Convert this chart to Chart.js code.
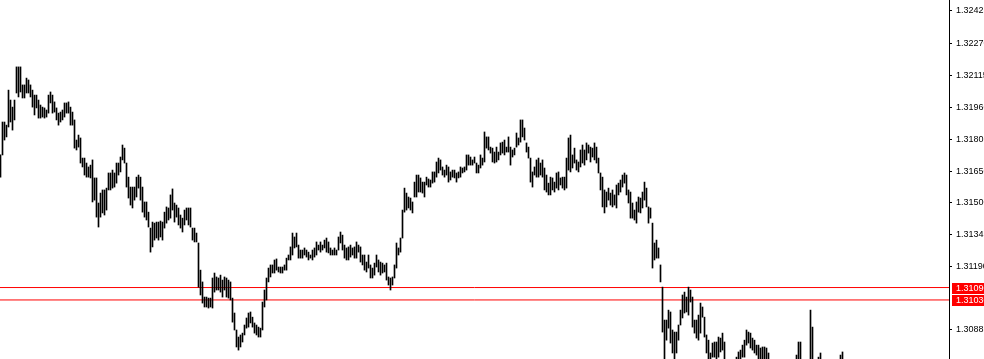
<!DOCTYPE html>
<html>
<head>
<meta charset="utf-8">
<script src="https://cdn.jsdelivr.net/npm/chart.js@4.4.1/dist/chart.umd.min.js"></script>
<style>
    html, body { margin: 0; padding: 0; background: #ffffff; }
    canvas { display: block; }
</style>
</head>
<body>
<canvas id="chart" width="984" height="359"></canvas>
<script>

// bar highs / lows, one entry per bar

const highs = [
    1.31730, 1.31889, 1.31889, 1.31874, 1.32043, 1.31995, 1.31961, 1.31995, 1.32155, 1.32155,
    1.32155, 1.32068, 1.32068, 1.32101, 1.32092, 1.32068, 1.32043, 1.32019, 1.32019, 1.31995,
    1.31971, 1.31961, 1.31957, 1.31947, 1.32019, 1.32034, 1.32019, 1.31986, 1.31957, 1.31932,
    1.31937, 1.31947, 1.31981, 1.31981, 1.31986, 1.31961, 1.31937, 1.31899, 1.31802, 1.31826,
    1.31812, 1.31715, 1.31715, 1.31691, 1.31672, 1.31681, 1.31706, 1.31619, 1.31619, 1.31498,
    1.31546, 1.31561, 1.31561, 1.31570, 1.31643, 1.31643, 1.31657, 1.31643, 1.31691, 1.31691,
    1.31720, 1.31778, 1.31763, 1.31691, 1.31623, 1.31575, 1.31575, 1.31575, 1.31623, 1.31633,
    1.31623, 1.31575, 1.31503, 1.31503, 1.31454, 1.31377, 1.31406, 1.31401, 1.31406, 1.31406,
    1.31411, 1.31406, 1.31454, 1.31479, 1.31474, 1.31537, 1.31566, 1.31498, 1.31488, 1.31474,
    1.31440, 1.31425, 1.31464, 1.31474, 1.31474, 1.31474, 1.31377, 1.31377, 1.31353, 1.31305,
    1.31174, 1.31117, 1.31044, 1.31044, 1.31039, 1.31039, 1.31136, 1.31160, 1.31141, 1.31136,
    1.31150, 1.31126, 1.31141, 1.31136, 1.31126, 1.31117, 1.31039, 1.30967, 1.30885, 1.30851,
    1.30861, 1.30870, 1.30909, 1.30943, 1.30967, 1.30972, 1.30947, 1.30919, 1.30909, 1.30899,
    1.30894, 1.31020, 1.31078, 1.31136, 1.31184, 1.31199, 1.31199, 1.31223, 1.31228, 1.31189,
    1.31189, 1.31189, 1.31199, 1.31232, 1.31247, 1.31286, 1.31353, 1.31334, 1.31353, 1.31295,
    1.31271, 1.31271, 1.31281, 1.31271, 1.31261, 1.31247, 1.31271, 1.31281, 1.31310, 1.31295,
    1.31310, 1.31295, 1.31319, 1.31329, 1.31310, 1.31281, 1.31271, 1.31281, 1.31271, 1.31334,
    1.31358, 1.31343, 1.31295, 1.31281, 1.31286, 1.31295, 1.31281, 1.31286, 1.31310, 1.31295,
    1.31286, 1.31247, 1.31247, 1.31213, 1.31247, 1.31199, 1.31184, 1.31208, 1.31247, 1.31223,
    1.31213, 1.31208, 1.31199, 1.31208, 1.31141, 1.31136, 1.31141, 1.31199, 1.31305, 1.31281,
    1.31329, 1.31464, 1.31570, 1.31546, 1.31527, 1.31522, 1.31503, 1.31599, 1.31633, 1.31633,
    1.31619, 1.31599, 1.31599, 1.31623, 1.31614, 1.31609, 1.31648, 1.31648, 1.31696, 1.31715,
    1.31706, 1.31672, 1.31657, 1.31681, 1.31672, 1.31648, 1.31657, 1.31657, 1.31643, 1.31648,
    1.31672, 1.31667, 1.31672, 1.31730, 1.31730, 1.31720, 1.31706, 1.31720, 1.31691, 1.31681,
    1.31730, 1.31715, 1.31841, 1.31817, 1.31817, 1.31768, 1.31763, 1.31744, 1.31768, 1.31744,
    1.31788, 1.31792, 1.31802, 1.31768, 1.31817, 1.31768, 1.31754, 1.31763, 1.31836, 1.31812,
    1.31899, 1.31899, 1.31860, 1.31788, 1.31768, 1.31715, 1.31648, 1.31672, 1.31706, 1.31715,
    1.31691, 1.31706, 1.31667, 1.31633, 1.31594, 1.31623, 1.31619, 1.31599, 1.31643, 1.31648,
    1.31619, 1.31623, 1.31623, 1.31715, 1.31812, 1.31826, 1.31730, 1.31763, 1.31706, 1.31696,
    1.31754, 1.31778, 1.31754, 1.31788, 1.31778, 1.31768, 1.31763, 1.31788, 1.31768, 1.31715,
    1.31643, 1.31623, 1.31561, 1.31551, 1.31570, 1.31546, 1.31561, 1.31537, 1.31585, 1.31594,
    1.31609, 1.31633, 1.31643, 1.31633, 1.31561, 1.31551, 1.31498, 1.31464, 1.31503, 1.31527,
    1.31522, 1.31551, 1.31599, 1.31570, 1.31479, 1.31474, 1.31401, 1.31305, 1.31319, 1.31281,
    1.31199, 1.31092, 1.30933, 1.30933, 1.30981, 1.30972, 1.30885, 1.30875, 1.30875, 1.30909,
    1.30981, 1.31054, 1.31068, 1.31044, 1.31092, 1.31078, 1.31044, 1.30933, 1.30933, 1.30957,
    1.31015, 1.30996, 1.30947, 1.30861, 1.30836, 1.30774, 1.30822, 1.30827, 1.30827, 1.30851,
    1.30846, 1.30870, 1.30827, 1.30730, 1.30716, 1.30730, 1.30716, 1.30730, 1.30754, 1.30779,
    1.30788, 1.30812, 1.30836, 1.30885, 1.30875, 1.30870, 1.30846, 1.30836, 1.30812, 1.30812,
    1.30798, 1.30803, 1.30803, 1.30798, 1.30774, 1.30730, 1.30716, 1.30730, 1.30716, 1.30730,
    1.30716, 1.30730, 1.30716, 1.30730, 1.30716, 1.30730, 1.30716, 1.30730, 1.30764, 1.30827,
    1.30827, 1.30730, 1.30716, 1.30730, 1.30716, 1.30981, 1.30899, 1.30730, 1.30730, 1.30754,
    1.30774, 1.30730, 1.30716, 1.30730, 1.30716, 1.30730, 1.30716, 1.30730, 1.30716, 1.30730,
    1.30764, 1.30779, 1.30730
];

const lows = [
    1.31623, 1.31730, 1.31802, 1.31817, 1.31865, 1.31889, 1.31850, 1.31899, 1.32029, 1.32010,
    1.32034, 1.32005, 1.32005, 1.32029, 1.32029, 1.32010, 1.31961, 1.31923, 1.31957, 1.31908,
    1.31908, 1.31913, 1.31908, 1.31913, 1.31932, 1.31981, 1.31932, 1.31937, 1.31899, 1.31874,
    1.31889, 1.31899, 1.31913, 1.31932, 1.31932, 1.31874, 1.31874, 1.31763, 1.31754, 1.31768,
    1.31691, 1.31672, 1.31633, 1.31623, 1.31623, 1.31619, 1.31503, 1.31512, 1.31430, 1.31382,
    1.31430, 1.31450, 1.31440, 1.31464, 1.31561, 1.31561, 1.31570, 1.31575, 1.31594, 1.31633,
    1.31648, 1.31706, 1.31691, 1.31575, 1.31522, 1.31488, 1.31474, 1.31512, 1.31527, 1.31570,
    1.31512, 1.31454, 1.31430, 1.31416, 1.31382, 1.31261, 1.31286, 1.31319, 1.31329, 1.31319,
    1.31334, 1.31319, 1.31377, 1.31401, 1.31416, 1.31425, 1.31464, 1.31406, 1.31430, 1.31392,
    1.31377, 1.31358, 1.31392, 1.31416, 1.31392, 1.31382, 1.31319, 1.31310, 1.31310, 1.31092,
    1.31054, 1.31015, 1.30996, 1.30996, 1.30991, 1.30996, 1.30991, 1.31068, 1.31078, 1.31078,
    1.31068, 1.31044, 1.31078, 1.31044, 1.31039, 1.31030, 1.30923, 1.30885, 1.30803, 1.30788,
    1.30803, 1.30827, 1.30861, 1.30894, 1.30899, 1.30919, 1.30899, 1.30870, 1.30861, 1.30851,
    1.30851, 1.30885, 1.30996, 1.31030, 1.31117, 1.31141, 1.31160, 1.31160, 1.31174, 1.31165,
    1.31160, 1.31160, 1.31174, 1.31174, 1.31223, 1.31223, 1.31247, 1.31281, 1.31286, 1.31232,
    1.31232, 1.31232, 1.31247, 1.31237, 1.31223, 1.31232, 1.31223, 1.31237, 1.31247, 1.31271,
    1.31261, 1.31271, 1.31281, 1.31261, 1.31257, 1.31247, 1.31247, 1.31247, 1.31247, 1.31271,
    1.31305, 1.31271, 1.31232, 1.31223, 1.31223, 1.31237, 1.31247, 1.31232, 1.31232, 1.31261,
    1.31213, 1.31199, 1.31174, 1.31165, 1.31184, 1.31136, 1.31136, 1.31150, 1.31189, 1.31165,
    1.31150, 1.31160, 1.31165, 1.31126, 1.31102, 1.31078, 1.31102, 1.31136, 1.31184, 1.31247,
    1.31261, 1.31329, 1.31454, 1.31464, 1.31474, 1.31464, 1.31450, 1.31527, 1.31527, 1.31551,
    1.31551, 1.31546, 1.31527, 1.31585, 1.31575, 1.31575, 1.31594, 1.31599, 1.31623, 1.31643,
    1.31657, 1.31633, 1.31623, 1.31633, 1.31599, 1.31609, 1.31623, 1.31619, 1.31599, 1.31619,
    1.31623, 1.31643, 1.31648, 1.31657, 1.31681, 1.31681, 1.31681, 1.31691, 1.31643, 1.31643,
    1.31667, 1.31681, 1.31696, 1.31763, 1.31754, 1.31739, 1.31696, 1.31691, 1.31696, 1.31706,
    1.31730, 1.31739, 1.31730, 1.31744, 1.31744, 1.31681, 1.31720, 1.31730, 1.31768, 1.31778,
    1.31792, 1.31817, 1.31802, 1.31744, 1.31715, 1.31599, 1.31575, 1.31633, 1.31623, 1.31623,
    1.31633, 1.31623, 1.31561, 1.31551, 1.31537, 1.31537, 1.31561, 1.31551, 1.31570, 1.31561,
    1.31585, 1.31570, 1.31561, 1.31570, 1.31657, 1.31648, 1.31667, 1.31691, 1.31657, 1.31648,
    1.31672, 1.31691, 1.31681, 1.31706, 1.31739, 1.31696, 1.31720, 1.31706, 1.31691, 1.31643,
    1.31561, 1.31479, 1.31450, 1.31479, 1.31512, 1.31488, 1.31479, 1.31488, 1.31474, 1.31537,
    1.31551, 1.31575, 1.31594, 1.31537, 1.31498, 1.31425, 1.31425, 1.31416, 1.31401, 1.31454,
    1.31450, 1.31474, 1.31512, 1.31479, 1.31401, 1.31425, 1.31184, 1.31223, 1.31232, 1.31232,
    1.31117, 1.30875, 1.30716, 1.30836, 1.30894, 1.30822, 1.30774, 1.30716, 1.30774, 1.30836,
    1.30909, 1.30943, 1.30967, 1.30972, 1.30957, 1.31020, 1.30899, 1.30870, 1.30846, 1.30836,
    1.30870, 1.30947, 1.30851, 1.30774, 1.30716, 1.30692, 1.30754, 1.30754, 1.30716, 1.30754,
    1.30779, 1.30788, 1.30716, 1.30667, 1.30667, 1.30667, 1.30667, 1.30692, 1.30716, 1.30716,
    1.30716, 1.30754, 1.30754, 1.30812, 1.30822, 1.30798, 1.30788, 1.30774, 1.30764, 1.30716,
    1.30716, 1.30730, 1.30730, 1.30730, 1.30716, 1.30667, 1.30667, 1.30692, 1.30667, 1.30667,
    1.30667, 1.30692, 1.30667, 1.30667, 1.30667, 1.30692, 1.30667, 1.30667, 1.30716, 1.30716,
    1.30716, 1.30667, 1.30667, 1.30692, 1.30667, 1.30716, 1.30716, 1.30667, 1.30692, 1.30716,
    1.30716, 1.30667, 1.30667, 1.30692, 1.30667, 1.30667, 1.30692, 1.30667, 1.30667, 1.30692,
    1.30716, 1.30716, 1.30667
];

const tickValues = [1.32425, 1.32270, 1.32115, 1.31960, 1.31805, 1.31650, 1.31500, 1.31345, 1.31190, 1.30885];
const tickLabels = ["1.32425", "1.32270", "1.32115", "1.31960", "1.31805", "1.31650", "1.31500", "1.31345", "1.31190", "1.30885"];

const levelValues = [1.31090, 1.31030];
const levelLabels = ["1.31090", "1.31030"];

const priceMin = 1.30745;
const priceMax = 1.32478;


window.onload = function () {

    drawChart();

};


// red price tags on the right axis
const priceTags = {

    id: "priceTags",

    afterDraw(chart) {

        const c = chart.ctx;
        const y = chart.scales.y;

        c.save();
        c.font = "9px 'Liberation Sans'";
        c.textBaseline = "middle";
        c.textAlign = "left";

        levelValues.forEach(function (v, i) {

            let py = y.getPixelForValue(v);

            c.fillStyle = "#ff0000";
            c.fillRect(y.left + 3, Math.round(py) - 5, chart.width - y.left - 3, 11);

            c.fillStyle = "#ffffff";
            c.fillText(levelLabels[i], y.left + 7, py + 0.5);

        });

        c.restore();

    }

};


function drawChart() {

    const ctx = document.getElementById("chart").getContext("2d");

    let bars = highs.map(function (h, i) {
        return { x: i, y: [lows[i], h] };
    });

    let levelLines = levelValues.map(function (v) {
        return {
            type: "line",
            data: [{ x: -1, y: v }, { x: 480, y: v }],
            borderColor: "#ff0000",
            borderWidth: 1,
            pointRadius: 0,
            fill: false
        };
    });

    new Chart(ctx, {

        type: "bar",

        data: {

            datasets: [{

                data: bars,
                backgroundColor: "#000000",
                borderWidth: 0,
                barThickness: 1

            }].concat(levelLines)

        },

        options: {

            responsive: false,
            animation: false,
            layout: { padding: 0 },

            plugins: {
                legend: { display: false },
                tooltip: { enabled: false }
            },

            scales: {

                x: {
                    type: "linear",
                    min: -0.25,
                    max: 474.25,
                    offset: false,
                    display: false
                },

                y: {
                    position: "right",
                    min: priceMin,
                    max: priceMax,
                    afterBuildTicks: function (s) {
                        s.ticks = tickValues.map(function (v) { return { value: v }; });
                    },
                    afterFit: function (s) {
                        s.width = 35;
                        s.paddingTop = 0;
                        s.paddingBottom = 0;
                    },
                    ticks: {
                        autoSkip: false,
                        padding: 4,
                        color: "#000000",
                        font: { family: "Liberation Sans", size: 9 },
                        callback: function (v) {
                            let k = tickValues.indexOf(v);
                            return k >= 0 ? tickLabels[k] : "";
                        }
                    },
                    grid: {
                        drawOnChartArea: false,
                        tickLength: 3,
                        color: "#000000"
                    },
                    border: { color: "#000000", width: 1 }
                }

            }

        },

        plugins: [priceTags]

    });

}

</script>
</body>
</html>
